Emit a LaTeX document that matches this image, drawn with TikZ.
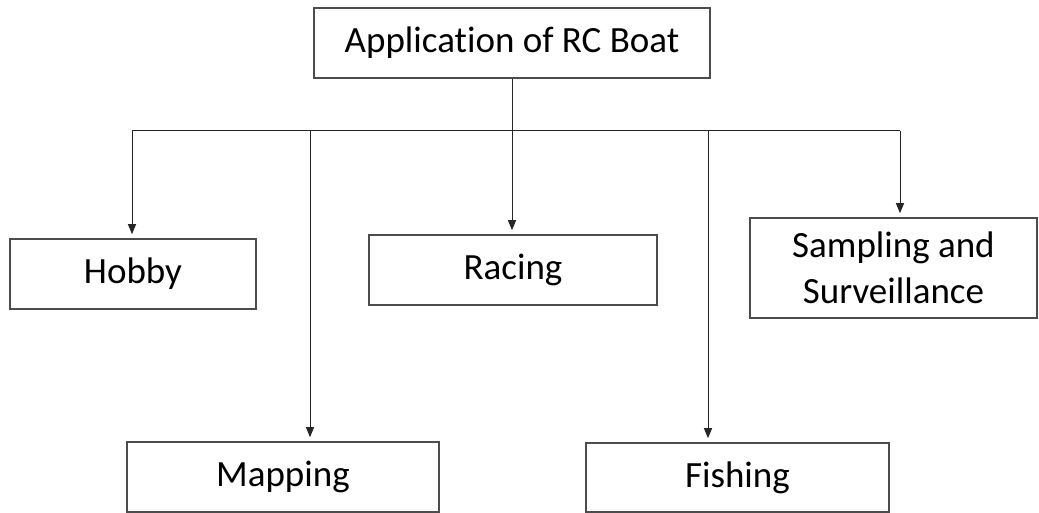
\documentclass[tikz,border=0pt]{standalone}
\usepackage{fontspec}
\setmainfont{Carlito}[Ligatures=NoCommon]
\usetikzlibrary{arrows.meta}
\begin{document}
\begin{tikzpicture}[x=1pt,y=-1pt,
  box/.style={draw=black!70,line width=1.6pt,inner sep=0pt,align=center,
    font=\fontsize{37}{46}\selectfont},
  arr/.style={draw=black!85,line width=1pt,-{Triangle[length=10pt,width=8pt]},shorten >=4pt},
  bus/.style={draw=black!85,line width=1pt}]
\useasboundingbox (0,0) rectangle (1039,513);
\node[box,minimum width=396pt,minimum height=70pt] (top) at (512,43) {Application of RC Boat};
\node[box,minimum width=246pt,minimum height=70pt] (hobby) at (133,274) {Hobby};
\node[box,minimum width=288pt,minimum height=70pt] (racing) at (513,270) {Racing};
\node[box,minimum width=287pt,minimum height=100pt] (samp) at (893.5,268) {Sampling and\\Surveillance};
\node[box,minimum width=312pt,minimum height=70pt] (mapping) at (283,477) {Mapping};
\node[box,minimum width=303pt,minimum height=69pt] (fishing) at (737.5,477.5) {Fishing};
\coordinate (b1) at (132,131);
\coordinate (b2) at (310,131);
\coordinate (b3) at (708,131);
\coordinate (b4) at (900,131);
\draw[bus] (b1) -- (b4);
\draw[arr] (top.south) -- (top.south |- racing.north);
\draw[arr] (b1) -- (b1 |- hobby.north);
\draw[arr] (b2) -- (b2 |- mapping.north);
\draw[arr] (b3) -- (b3 |- fishing.north);
\draw[arr] (b4) -- (b4 |- samp.north);
\end{tikzpicture}
\end{document}
